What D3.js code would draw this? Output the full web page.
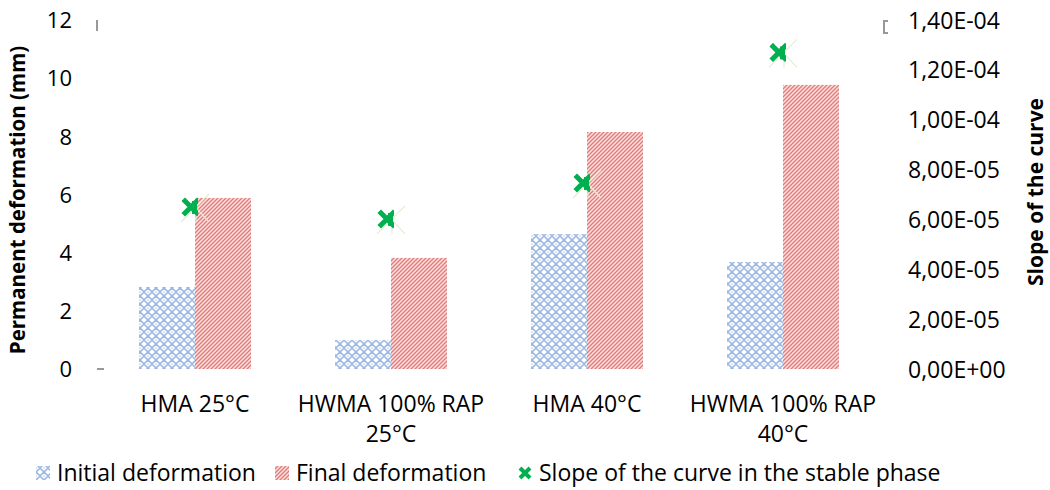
<!DOCTYPE html>
<html><head><meta charset="utf-8">
<script src="https://cdn.jsdelivr.net/npm/d3@7"></script>
<style>body{margin:0;background:#fff}svg{display:block}text{font-family:"Open Sans",sans-serif;fill:#000}</style>
</head><body><svg id="c" width="1050" height="490"></svg>
<script>
const categories = [["HMA 25°C"], ["HWMA 100% RAP", "25°C"], ["HMA 40°C"], ["HWMA 100% RAP", "40°C"]];
const initialDef = [2.82, 1.0, 4.64, 3.68];
const finalDef = [5.88, 3.82, 8.15, 9.77];
const slopeVals = [6.5e-5, 6.02e-5, 7.46e-5, 1.27e-4];
const leftTicks = [0, 2, 4, 6, 8, 10, 12];
const rightTicks = [0, 2e-5, 4e-5, 6e-5, 8e-5, 1e-4, 1.2e-4, 1.4e-4];
const legendLabels = ["Initial deformation", "Final deformation", "Slope of the curve in the stable phase"];

const svg = d3.select("#c");
const defs = svg.append("defs");
const pb = defs.append("pattern").attr("id","pBlue").attr("patternUnits","userSpaceOnUse").attr("width",8).attr("height",8);
pb.append("rect").attr("width",8).attr("height",8).attr("fill","#fff");
pb.append("path").attr("d","M0,4 L4,0 L8,4 L4,8 Z").attr("fill","none").attr("stroke","#9bb7e3").attr("stroke-width",1.6);
pb.append("rect").attr("x",3).attr("y",3).attr("width",2).attr("height",2).attr("fill","#dbe5f5");
const pr = defs.append("pattern").attr("id","pRed").attr("patternUnits","userSpaceOnUse").attr("width",4).attr("height",4);
pr.append("rect").attr("width",4).attr("height",4).attr("fill","#fbe3e3");
pr.append("path").attr("d","M-1,1 L1,-1 M0,4 L4,0 M3,5 L5,3").attr("stroke","#e47b7b").attr("stroke-width",1.4);

const x0 = d3.scaleBand().domain(d3.range(categories.length)).range([97, 881]).paddingInner(0).paddingOuter(0);
const x1 = d3.scaleBand().domain([0,1]).range([0, x0.bandwidth()]).paddingInner(0).paddingOuter(0.75);
const y = d3.scaleLinear().domain([0, 12]).range([369, 20]);
const y2 = d3.scaleLinear().domain([0, 1.4e-4]).range([369, 20]);

const g = svg.append("g");
categories.forEach((c,i)=>{
  g.append("rect").attr("x", x0(i)+x1(0)).attr("y", y(initialDef[i])).attr("width", x1.bandwidth()).attr("height", y(0)-y(initialDef[i])).attr("fill","url(#pBlue)");
  g.append("rect").attr("x", x0(i)+x1(1)).attr("y", y(finalDef[i])).attr("width", x1.bandwidth()).attr("height", y(0)-y(finalDef[i])).attr("fill","url(#pRed)");
});

const la = svg.append("g").attr("transform","translate(97,0)")
  .call(d3.axisLeft(y).tickValues(leftTicks).tickSize(0).tickPadding(25).tickFormat(d3.format("d")));
la.select(".domain").remove();
la.selectAll("text").style("font-size","22px").attr("dy","0.35em");
const fmtSci = d => d===0 ? "0,00E+00" : d.toExponential(2).replace(".",",").replace(/e([+-])(\d)$/,"E$10$2").toUpperCase();
const ra = svg.append("g").attr("transform","translate(881,0)")
  .call(d3.axisRight(y2).tickValues(rightTicks).tickSize(0).tickPadding(27).tickFormat(fmtSci));
ra.select(".domain").remove();
ra.selectAll("text").style("font-size","23px").attr("dy","0.35em");

svg.append("line").attr("x1",97).attr("x2",104).attr("y1",369).attr("y2",369).attr("stroke","#999").attr("stroke-width",2);
svg.append("line").attr("x1",97).attr("x2",97).attr("y1",20).attr("y2",31).attr("stroke","#999").attr("stroke-width",2);
svg.append("path").attr("d","M888,21 L884,21 L884,33 L888,33").attr("fill","none").attr("stroke","#999").attr("stroke-width",2);

const mk = svg.append("g");
slopeVals.forEach((v,i)=>{
  const cx = x0(i)+x0.bandwidth()/2, cy = y2(v);
  const f = mk.append("g").attr("stroke","#e6ecd2").attr("stroke-width",1.2);
  f.append("line").attr("x1",cx-14).attr("y1",cy+15).attr("x2",cx+14).attr("y2",cy-13);
  f.append("line").attr("x1",cx-1).attr("y1",cy-1).attr("x2",cx+14).attr("y2",cy+15);
  f.append("line").attr("x1",cx+1).attr("y1",cy).attr("x2",cx+1).attr("y2",cy+15);
  const s = 6;
  const c = cx-4;
  mk.append("clipPath").attr("id","cl"+i).append("rect").attr("x",cx-20).attr("y",cy-20).attr("width",23).attr("height",40);
  mk.append("path").attr("clip-path","url(#cl"+i+")")
    .attr("d",`M${c-s},${cy-s} L${c+s},${cy+s} M${c-s},${cy+s} L${c+s},${cy-s}`)
    .attr("stroke","#00b050").attr("stroke-width",5).attr("stroke-linecap","square");
  mk.append("rect").attr("clip-path","url(#cl"+i+")").attr("x",c+1).attr("y",cy-6).attr("width",5).attr("height",13).attr("fill","#00b050");
});

categories.forEach((lines,i)=>{
  const t = svg.append("text").attr("x", x0(i)+x0.bandwidth()/2).attr("y", 412).attr("text-anchor","middle").style("font-size","23px");
  lines.forEach((l,j)=>t.append("tspan").attr("x", x0(i)+x0.bandwidth()/2).attr("dy", j===0?0:30).text(l));
});

svg.append("text").attr("transform","translate(25,200) rotate(-90)").attr("text-anchor","middle")
  .style("font-size","20.5px").style("font-weight","bold").text("Permanent deformation (mm)");
svg.append("text").attr("transform","translate(1043,192) rotate(-90)").attr("text-anchor","middle")
  .style("font-size","21px").style("font-weight","bold").text("Slope of the curve");

const lx = [36, 275, 518];
const lg = svg.append("g");
legendLabels.forEach((l,i)=>{
  if(i===0){
    lg.append("rect").attr("x",lx[i]).attr("y",466).attr("width",14).attr("height",14).attr("fill","url(#pBlue)");
  } else if(i===1){
    lg.append("rect").attr("x",lx[i]).attr("y",466).attr("width",14).attr("height",14).attr("fill","url(#pRed)");
  } else {
    const c=lx[i]+7, cy=473, s=5;
    lg.append("path").attr("d",`M${c-s},${cy-s} L${c+s},${cy+s} M${c-s},${cy+s} L${c+s},${cy-s}`).attr("stroke","#00b050").attr("stroke-width",4);
  }
  lg.append("text").attr("x",lx[i]+21).attr("y",473).attr("dy","0.35em").style("font-size","23px").text(l);
});
</script></body></html>
